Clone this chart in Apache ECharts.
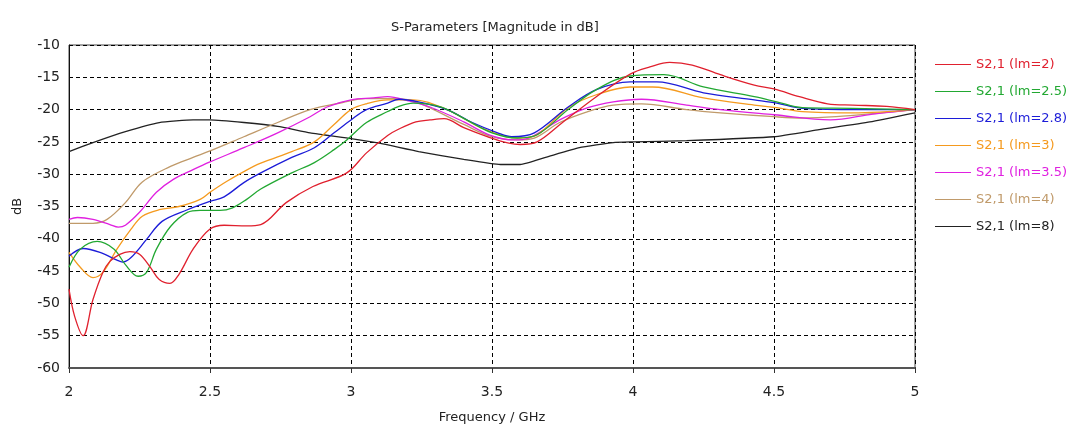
<!DOCTYPE html>
<html>
<head>
<meta charset="utf-8">
<script src="https://cdn.jsdelivr.net/npm/echarts@6/dist/echarts.min.js"></script>
<style>
  html, body { margin: 0; padding: 0; background: #fff; }
  #chart { width: 1070px; height: 429px; }
</style>
</head>
<body>
<div id="chart"></div>
<script>
// S2,1 magnitude (dB) versus frequency (GHz) for several lm values
const freqLm2   = [2.0,2.02,2.05,2.085,2.12,2.145,2.18,2.216,2.25,2.29,2.32,2.358,2.39,2.44,2.5,2.55,2.63,2.68,2.77,2.865,2.985,3.055,3.13,3.17,3.23,3.28,3.33,3.40,3.49,3.56,3.60,3.66,3.75,3.87,3.99,4.06,4.13,4.21,4.31,4.43,4.50,4.59,4.69,4.78,4.90,5.0];
const dbLm2     = [-47.8,-52,-55.0,-49.4,-45.2,-43.5,-42.4,-42.0,-42.4,-44.5,-46.3,-46.9,-45.5,-41.6,-38.5,-37.9,-38.0,-37.8,-34.4,-31.9,-29.8,-26.7,-24.0,-23.0,-21.9,-21.6,-21.4,-22.8,-24.3,-25.2,-25.4,-25.0,-22.0,-18.0,-14.5,-13.4,-12.7,-13.1,-14.6,-16.2,-16.8,-18.0,-19.1,-19.3,-19.5,-20.0];

const freqLm25  = [2.0,2.04,2.10,2.16,2.2,2.245,2.275,2.31,2.36,2.42,2.465,2.535,2.58,2.63,2.68,2.79,2.87,2.94,2.985,3.055,3.13,3.17,3.22,3.32,3.41,3.50,3.59,3.66,3.77,3.87,3.99,4.11,4.25,4.43,4.51,4.60,4.78,5.0];
const dbLm25    = [-44.4,-41.6,-40.4,-41.6,-44.0,-45.8,-45.2,-41.6,-38.1,-35.9,-35.6,-35.6,-35.2,-33.9,-32.3,-29.8,-28.2,-26.2,-24.7,-22.0,-20.3,-19.5,-19.0,-19.6,-21.6,-23.6,-24.4,-23.9,-20.0,-16.9,-14.8,-14.6,-16.5,-18.0,-18.8,-19.7,-19.8,-20.0];

const freqLm28  = [2.0,2.05,2.11,2.17,2.19,2.22,2.275,2.33,2.42,2.5,2.55,2.62,2.68,2.79,2.87,2.94,3.0,3.055,3.13,3.17,3.24,3.34,3.43,3.52,3.57,3.65,3.77,3.87,3.99,4.085,4.25,4.43,4.51,4.60,4.80,5.0];
const dbLm28    = [-42.7,-41.5,-42.1,-43.3,-43.6,-42.9,-40.1,-37.3,-35.5,-34.2,-33.5,-31.3,-29.8,-27.4,-25.9,-23.6,-21.6,-20.0,-19.0,-18.4,-18.8,-20.0,-22.0,-23.6,-24.2,-23.6,-19.6,-16.9,-15.7,-15.7,-17.4,-18.5,-19.0,-19.8,-20.0,-20.0];

const freqLm3   = [2.0,2.04,2.085,2.12,2.17,2.22,2.26,2.32,2.39,2.465,2.5,2.56,2.62,2.68,2.79,2.87,2.94,3.0,3.055,3.13,3.22,3.34,3.46,3.55,3.60,3.66,3.77,3.87,3.99,4.07,4.25,4.43,4.51,4.60,4.78,5.0];
const dbLm3     = [-42.1,-44.4,-46.0,-45.2,-41.6,-38.5,-36.5,-35.5,-35.0,-33.9,-32.8,-31.1,-29.6,-28.3,-26.5,-25.0,-22.3,-20.0,-19.1,-18.5,-18.5,-20.0,-22.8,-24.2,-24.4,-23.9,-19.7,-17.7,-16.5,-16.5,-18.2,-19.3,-19.7,-20.3,-20.5,-20.0];

const freqLm35  = [2.0,2.03,2.085,2.145,2.175,2.2,2.25,2.31,2.37,2.44,2.5,2.62,2.74,2.855,2.915,3.0,3.08,3.13,3.20,3.28,3.40,3.49,3.575,3.63,3.74,3.84,3.93,4.03,4.19,4.31,4.50,4.70,4.85,5.0];
const dbLm35    = [-37.0,-36.7,-37.0,-37.8,-38.2,-37.9,-35.9,-32.8,-30.8,-29.3,-28.1,-25.9,-23.6,-21.1,-19.6,-18.5,-18.2,-18.0,-18.6,-19.6,-21.9,-23.9,-24.7,-24.4,-21.6,-19.7,-18.8,-18.4,-19.3,-20.0,-20.8,-21.6,-20.7,-20.0];

const freqLm4   = [2.0,2.085,2.135,2.2,2.26,2.36,2.44,2.5,2.62,2.74,2.855,2.97,3.05,3.15,3.23,3.40,3.50,3.59,3.65,3.74,3.84,3.93,4.03,4.19,4.31,4.50,4.60,4.72,4.88,5.0];
const dbLm4     = [-37.6,-37.6,-37.0,-34.4,-31.2,-28.8,-27.4,-26.4,-24.2,-22.0,-20.0,-18.9,-18.3,-18.3,-18.8,-22.3,-24.2,-24.7,-24.4,-22.0,-20.3,-19.3,-19.1,-20.0,-20.5,-21.1,-21.3,-21.1,-20.5,-20.0];

const freqLm8   = [2.0,2.085,2.2,2.32,2.44,2.5,2.62,2.74,2.855,3.0,3.10,3.24,3.40,3.53,3.60,3.69,3.81,3.93,4.0,4.19,4.50,4.66,4.84,5.0];
const dbLm8     = [-26.5,-25.1,-23.4,-22.0,-21.6,-21.6,-22.0,-22.6,-23.6,-24.5,-25.2,-26.5,-27.7,-28.5,-28.5,-27.4,-25.9,-25.1,-25.0,-24.8,-24.2,-23.1,-21.9,-20.5];

const seriesNames  = ['S2,1 (lm=2)','S2,1 (lm=2.5)','S2,1 (lm=2.8)','S2,1 (lm=3)','S2,1 (lm=3.5)','S2,1 (lm=4)','S2,1 (lm=8)'];
const seriesColors = ['#e0202e','#22a832','#1c1cd8','#f59a1e','#e020e0','#c09a6a','#222222'];
const seriesFreqs  = [freqLm2, freqLm25, freqLm28, freqLm3, freqLm35, freqLm4, freqLm8];
const seriesDb     = [dbLm2, dbLm25, dbLm28, dbLm3, dbLm35, dbLm4, dbLm8];

const xTicks = { min: 2, max: 5, step: 0.5 };
const yTicks = { min: -60, max: -10, step: 5 };

const FONT = 'DejaVu Sans';

const chart = echarts.init(document.getElementById('chart'), null, { renderer: 'canvas' });

const gridDash = { color: '#000', width: 1, type: [4, 3] };

chart.setOption({
  animation: false,
  backgroundColor: '#fff',
  title: {
    text: 'S-Parameters [Magnitude in dB]',
    left: 386,
    top: 16,
    textStyle: { fontFamily: FONT, fontSize: 13, fontWeight: 'normal', color: '#222' }
  },
  grid: {
    left: 69, right: 155, top: 45, bottom: 60,
    show: true, borderColor: '#444', borderWidth: 1, backgroundColor: '#fff'
  },
  legend: {
    orient: 'vertical',
    left: 930,
    top: 53,
    itemWidth: 36,
    itemHeight: 14,
    itemGap: 14,
    icon: 'path://M0,7 L36,7 L36,8.2 L0,8.2 Z',
    textStyle: { fontFamily: FONT, fontSize: 13 },
    data: seriesNames.map((n, i) => ({ name: n, textStyle: { color: seriesColors[i] } }))
  },
  xAxis: {
    type: 'value',
    min: xTicks.min, max: xTicks.max, interval: xTicks.step,
    name: 'Frequency / GHz',
    nameLocation: 'middle',
    nameGap: 43,
    nameTextStyle: { fontFamily: FONT, fontSize: 13, color: '#222' },
    axisLine: { show: true, onZero: false, lineStyle: { color: '#555', width: 2 } },
    axisTick: { show: true, length: 5, lineStyle: { color: '#333' } },
    axisLabel: { fontFamily: FONT, fontSize: 14, color: '#222', margin: 17 },
    splitLine: { show: true, lineStyle: gridDash }
  },
  yAxis: {
    type: 'value',
    min: yTicks.min, max: yTicks.max, interval: yTicks.step,
    name: 'dB',
    nameLocation: 'middle',
    nameGap: 45,
    nameRotate: 90,
    nameTextStyle: { fontFamily: FONT, fontSize: 13, color: '#222' },
    axisLine: { show: true, onZero: false, lineStyle: { color: '#111', width: 1 } },
    axisTick: { show: false },
    axisLabel: { fontFamily: FONT, fontSize: 14, color: '#222', margin: 9 },
    splitLine: { show: true, lineStyle: gridDash }
  },
  series: seriesNames.map((n, i) => ({
    name: n,
    type: 'line',
    data: seriesFreqs[i].map((f, k) => [f, seriesDb[i][k]]),
    smooth: i === 6 ? 0.15 : 0.35,
    showSymbol: false,
    symbol: 'none',
    lineStyle: { color: seriesColors[i], width: 1.3 },
    itemStyle: { color: seriesColors[i] },
    z: 10 - i
  }))
});
</script>
</body>
</html>
